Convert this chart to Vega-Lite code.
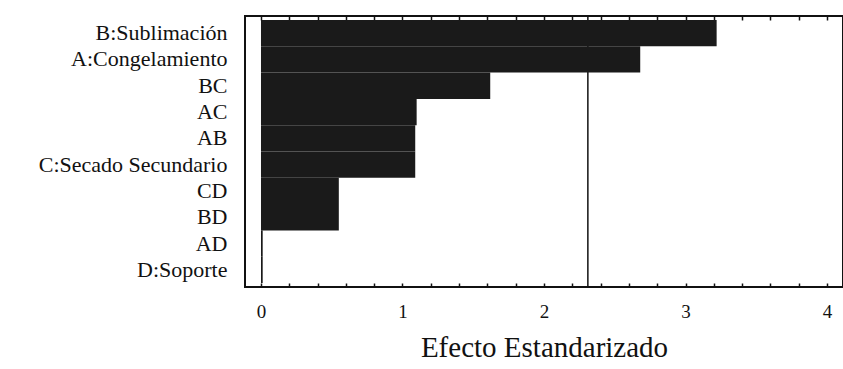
{
  "$schema": "https://vega.github.io/schema/vega-lite/v6.json",
  "width": 598,
  "height": 271,
  "autosize": {"type": "none"},
  "padding": {"left": 245, "top": 16, "right": 0, "bottom": 82},
  "background": "white",
  "config": {
    "view": {"stroke": "#111111", "strokeWidth": 2},
    "font": "Liberation Serif"
  },
  "resolve": {"axis": {"x": "independent"}},
  "data": {
    "values": [
      {"efecto": "B:Sublimación", "valor": 3.22},
      {"efecto": "A:Congelamiento", "valor": 2.68},
      {"efecto": "BC", "valor": 1.62},
      {"efecto": "AC", "valor": 1.10},
      {"efecto": "AB", "valor": 1.09},
      {"efecto": "C:Secado Secundario", "valor": 1.09},
      {"efecto": "CD", "valor": 0.55},
      {"efecto": "BD", "valor": 0.55},
      {"efecto": "AD", "valor": 0.012},
      {"efecto": "D:Soporte", "valor": 0.012}
    ]
  },
  "layer": [
    {
      "data": {"values": [{"limite": 2.31}]},
      "mark": {"type": "rule", "color": "#111111", "strokeWidth": 1.5},
      "encoding": {
        "x": {
          "field": "limite",
          "type": "quantitative",
          "scale": {"domain": [-0.113, 4.113], "nice": false, "zero": false},
          "axis": {
            "orient": "top",
            "values": [0, 0.2, 0.4, 0.6, 0.8, 1, 1.2, 1.4, 1.6, 1.8, 2, 2.2, 2.4, 2.6, 2.8, 3, 3.2, 3.4, 3.6, 3.8, 4],
            "labels": false,
            "title": null,
            "domain": false,
            "grid": false,
            "offset": -4,
            "tickSize": 4,
            "tickColor": "#111111",
            "tickWidth": 1.5
          }
        }
      }
    },
    {
      "mark": {"type": "bar", "color": "#1a1a1a", "orient": "horizontal"},
      "encoding": {
        "y": {
          "field": "efecto",
          "type": "nominal",
          "sort": null,
          "scale": {"paddingInner": 0, "paddingOuter": 0.15},
          "axis": {
            "title": null,
            "ticks": false,
            "domain": false,
            "labelPadding": 18,
            "labelFontSize": 22,
            "labelLimit": 300,
            "labelColor": "#111111",
            "labelFont": "Liberation Serif"
          }
        },
        "x": {
          "field": "valor",
          "type": "quantitative",
          "scale": {"domain": [-0.113, 4.113], "nice": false, "zero": false},
          "axis": {
            "values": [0, 0.2, 0.4, 0.6, 0.8, 1, 1.2, 1.4, 1.6, 1.8, 2, 2.2, 2.4, 2.6, 2.8, 3, 3.2, 3.4, 3.6, 3.8, 4],
            "labelExpr": "datum.value % 1 === 0 ? format(datum.value, 'd') : ''",
            "title": "Efecto Estandarizado",
            "titleFont": "Liberation Serif",
            "titleFontSize": 29,
            "titleFontWeight": "normal",
            "titleColor": "#111111",
            "titlePadding": 12,
            "labelFontSize": 19,
            "labelColor": "#111111",
            "labelFont": "Liberation Serif",
            "labelPadding": 15,
            "offset": -4,
            "tickSize": 4,
            "tickWidth": 1.5,
            "tickColor": "#111111",
            "domain": false,
            "grid": false,
            "labelFlush": false
          }
        }
      }
    }
  ]
}
